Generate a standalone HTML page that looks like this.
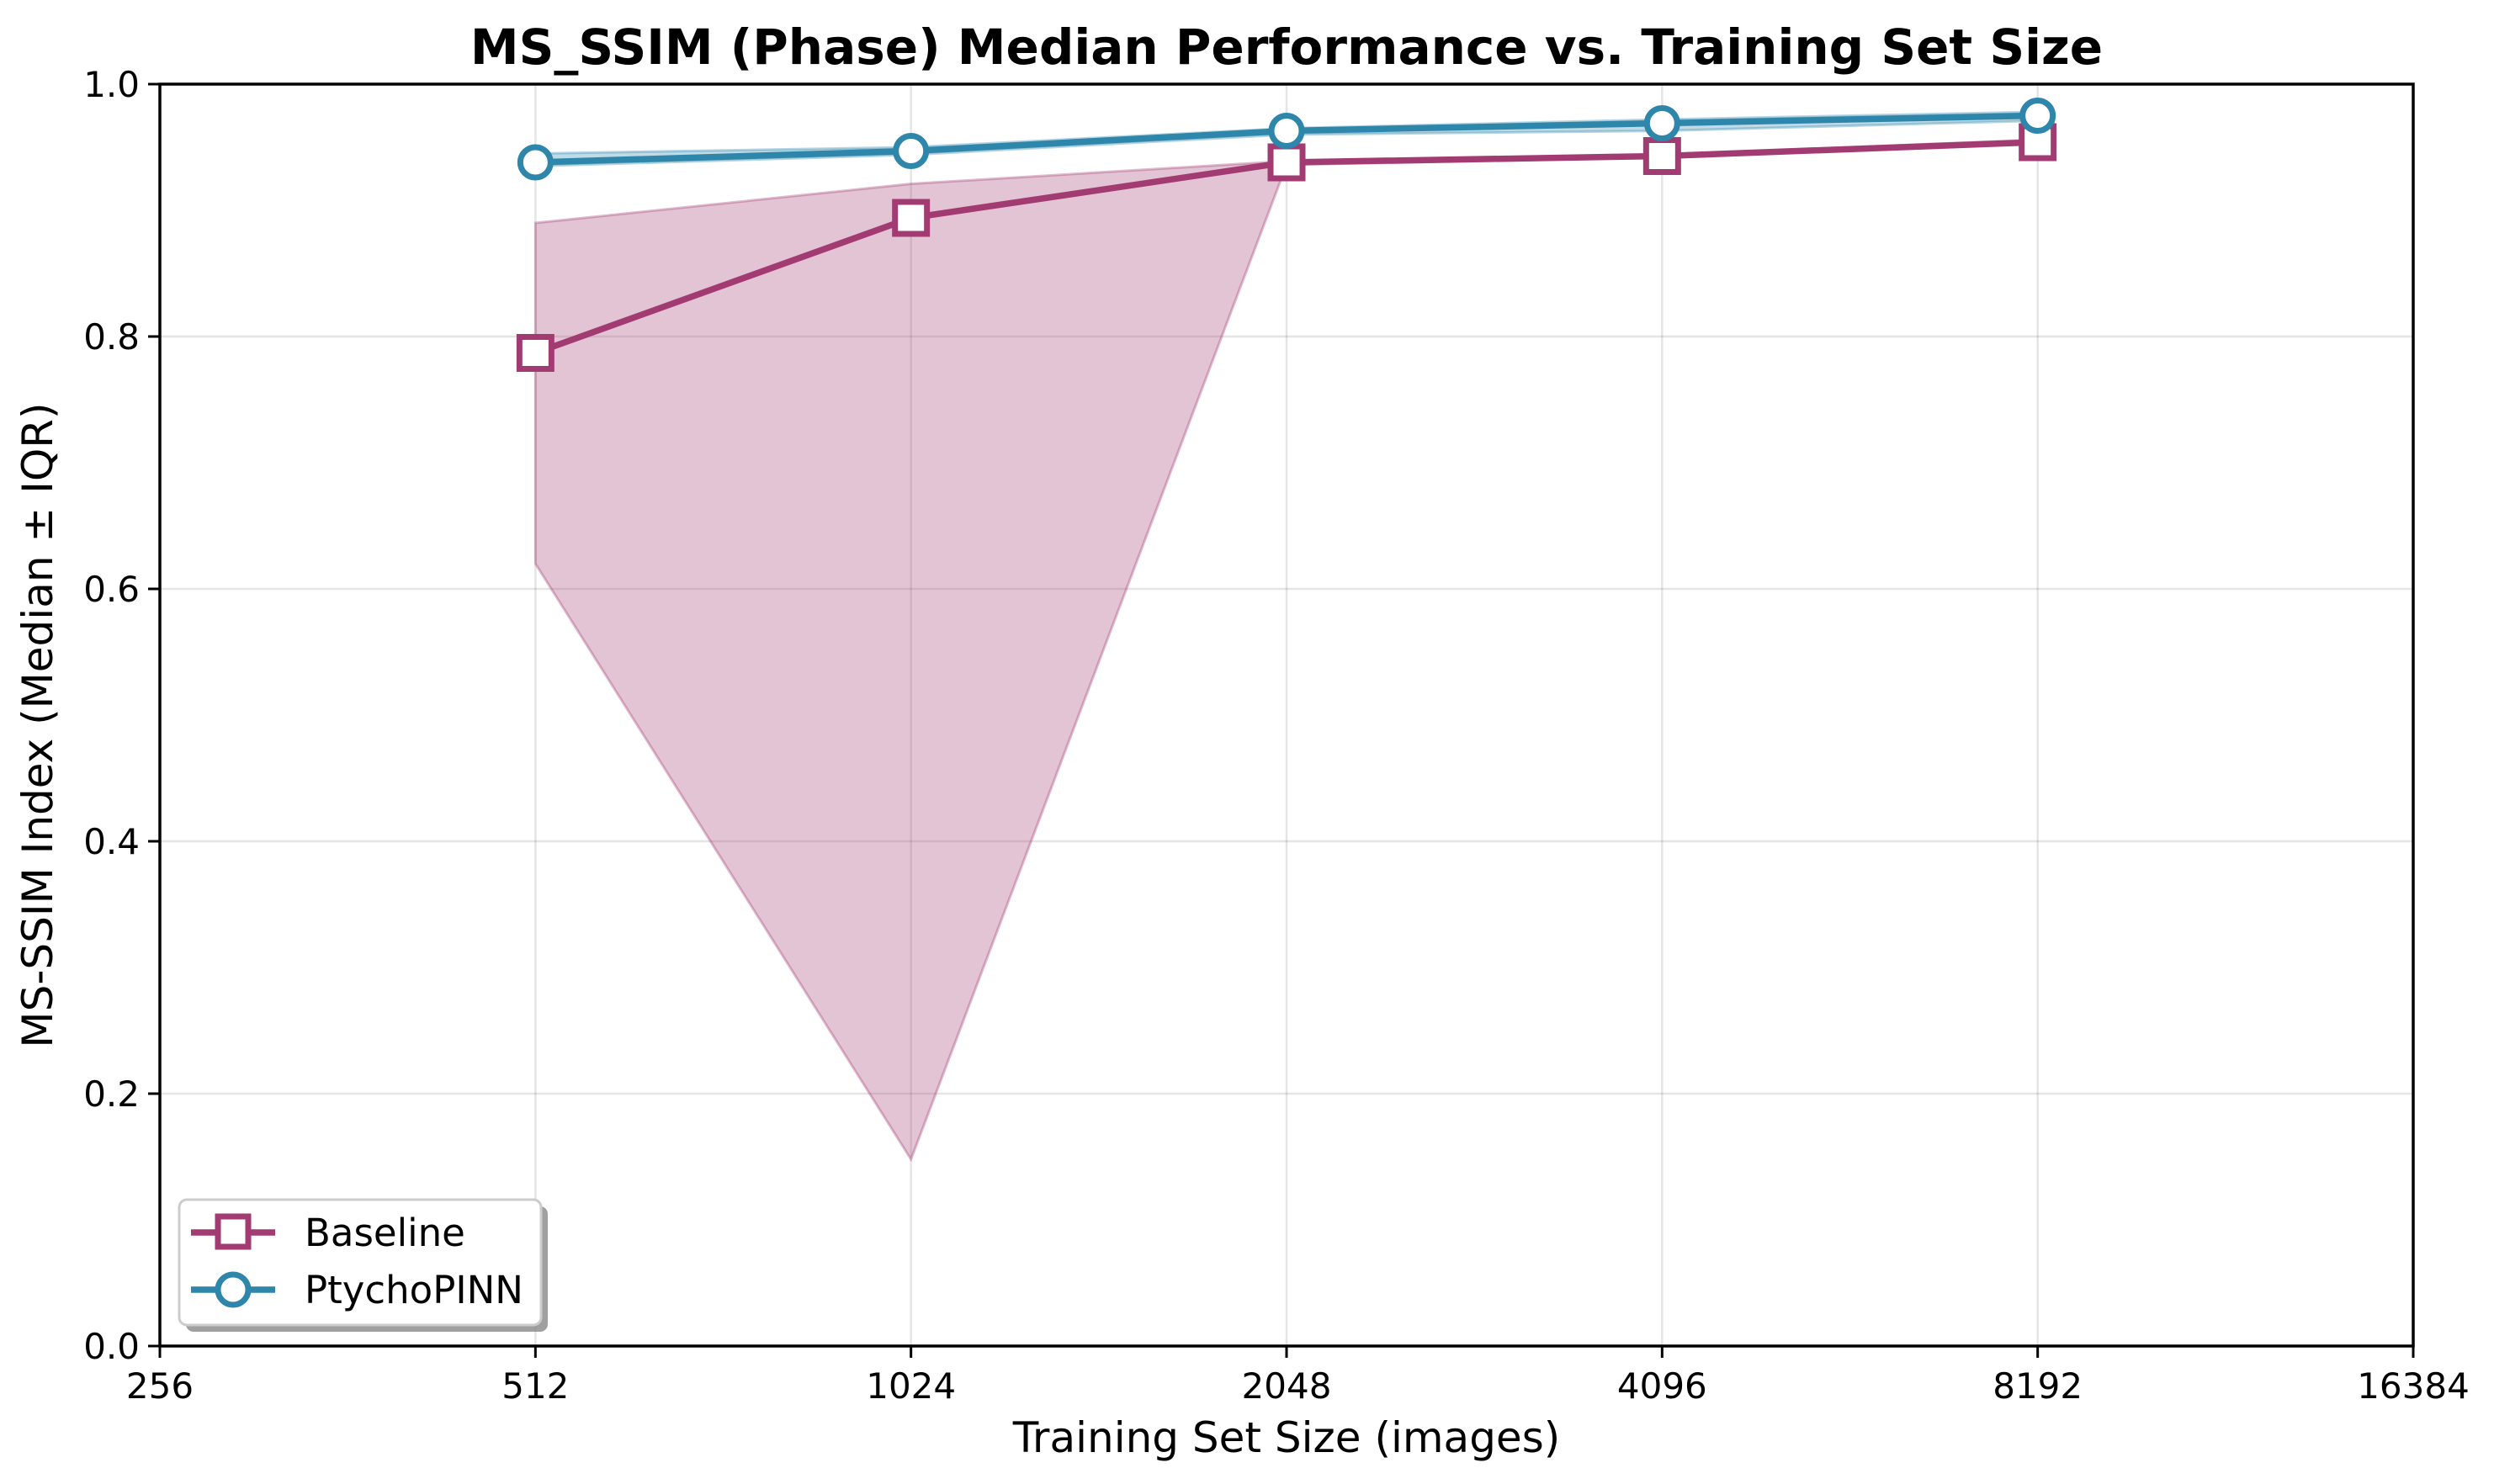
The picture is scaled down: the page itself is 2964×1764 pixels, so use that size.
<!DOCTYPE html>
<html><head><meta charset="utf-8"><style>
html,body{margin:0;padding:0;background:#fff;}
svg{display:block;font-family:"DejaVu Sans","Liberation Sans",sans-serif;}
</style></head><body>
<svg id="chart" width="2964" height="1764" viewBox="0 0 2964 1764" xmlns="http://www.w3.org/2000/svg">
<rect width="2964" height="1764" fill="#fff"/>
<g id="grid"></g>
<g id="bands"></g>
<g id="lines"></g>
<g id="axes"></g>
<text x="1529" y="76" text-anchor="middle" font-size="58" font-weight="bold">MS_SSIM (Phase) Median Performance vs. Training Set Size</text>
<text x="1529" y="1726" text-anchor="middle" font-size="50">Training Set Size (images)</text>
<text transform="translate(62,862) rotate(-90)" text-anchor="middle" font-size="50">MS-SSIM Index (Median ± IQR)</text>
<g>
<rect x="221" y="1434" width="430" height="149" rx="9" fill="#888" opacity="0.8"/>
<rect x="213" y="1426" width="430" height="149" rx="9" fill="#fff" stroke="#ccc" stroke-width="3"/>
<g>
<line x1="227" y1="1465" x2="327" y2="1465" stroke="#A23B72" stroke-width="7.5"/>
<rect x="259" y="1446" width="36" height="36" fill="#fff" stroke="#A23B72" stroke-width="7"/>
<text x="362" y="1481" font-size="45">Baseline</text>
</g>
<g>
<line x1="227" y1="1533" x2="327" y2="1533" stroke="#2E86AB" stroke-width="7.5"/>
<circle cx="277" cy="1533" r="18" fill="#fff" stroke="#2E86AB" stroke-width="7"/>
<text x="362" y="1549" font-size="45">PtychoPINN</text>
</g>
</g>
</svg>
<script>
const xTicks = [256, 512, 1024, 2048, 4096, 8192, 16384];
const yTicks = [0.0, 0.2, 0.4, 0.6, 0.8, 1.0];
const sizes = [512, 1024, 2048, 4096, 8192];
const baseMed = [0.787, 0.894, 0.938, 0.943, 0.954];
const baseLo = [0.620, 0.148, 0.936, 0.942, 0.953];
const baseHi = [0.890, 0.921, 0.939, 0.944, 0.956];
const ptyMed = [0.938, 0.947, 0.963, 0.969, 0.975];
const ptyLo = [0.935, 0.944, 0.960, 0.963, 0.971];
const ptyHi = [0.945, 0.950, 0.965, 0.972, 0.978];

const L=190,R=2868,T=100,B=1600;
const NS='http://www.w3.org/2000/svg';
function sx(v){return L+(Math.log2(v)-8)/(14-8)*(R-L);}
function sy(v){return B-v*(B-T);}
function mk(tag,attrs,parent){const e=document.createElementNS(NS,tag);for(const k in attrs)e.setAttribute(k,attrs[k]);document.getElementById(parent).appendChild(e);return e;}

xTicks.forEach((t,i)=>{
  const x=sx(t);
  const g=mk('line',{x1:x,y1:T,x2:x,y2:B,stroke:'#000','stroke-opacity':0.1,'stroke-width':2.5},'grid');
  
  
  const tk=mk('line',{x1:x,y1:B,x2:x,y2:B+14,stroke:'#000','stroke-width':3},'axes');
  
  
  const lb=mk('text',{x:x,y:1662,'text-anchor':'middle','font-size':42},'axes');
  lb.textContent=String(t);
  
  
});
yTicks.forEach(t=>{
  const y=sy(t);
  const g=mk('line',{x1:L,y1:y,x2:R,y2:y,stroke:'#000','stroke-opacity':0.1,'stroke-width':2.5},'grid');
  
  
  const tk=mk('line',{x1:L-14,y1:y,x2:L,y2:y,stroke:'#000','stroke-width':3},'axes');
  
  
  const lb=mk('text',{x:L-24,y:y+15,'text-anchor':'end','font-size':42},'axes');
  lb.textContent=t.toFixed(1);
  
  
});
const frame=mk('rect',{x:L,y:T,width:R-L,height:B-T,fill:'none',stroke:'#000','stroke-width':3.5},'axes');



function band(lo,hi,color,name){
  let d='M'+sizes.map((s,i)=>sx(s)+','+sy(hi[i])).join(' L');
  d+=' L'+sizes.slice().reverse().map((s,j)=>{const i=sizes.length-1-j;return sx(s)+','+sy(lo[i]);}).join(' L')+' Z';
  const p=mk('path',{d:d,fill:color,'fill-opacity':0.3,stroke:color,'stroke-opacity':0.35,'stroke-width':3},'bands');
  
  
}
band(baseLo,baseHi,'#A23B72','baseline-iqr-band');
band(ptyLo,ptyHi,'#2E86AB','ptychopinn-iqr-band');

function series(vals,color,name,shape){
  const pts=sizes.map((s,i)=>sx(s)+','+sy(vals[i])).join(' ');
  const pl=mk('polyline',{points:pts,fill:'none',stroke:color,'stroke-width':7.5,'stroke-linejoin':'round'},'lines');
  
  
  sizes.forEach((s,i)=>{
    let m;
    if(shape==='square') m=mk('rect',{x:sx(s)-19,y:sy(vals[i])-19,width:38,height:38,fill:'#fff',stroke:color,'stroke-width':7},'lines');
    else m=mk('circle',{cx:sx(s),cy:sy(vals[i]),r:18,fill:'#fff',stroke:color,'stroke-width':7},'lines');
    
    
  });
}
series(baseMed,'#A23B72','baseline','square');
series(ptyMed,'#2E86AB','ptychopinn','circle');
</script>
</body></html>
